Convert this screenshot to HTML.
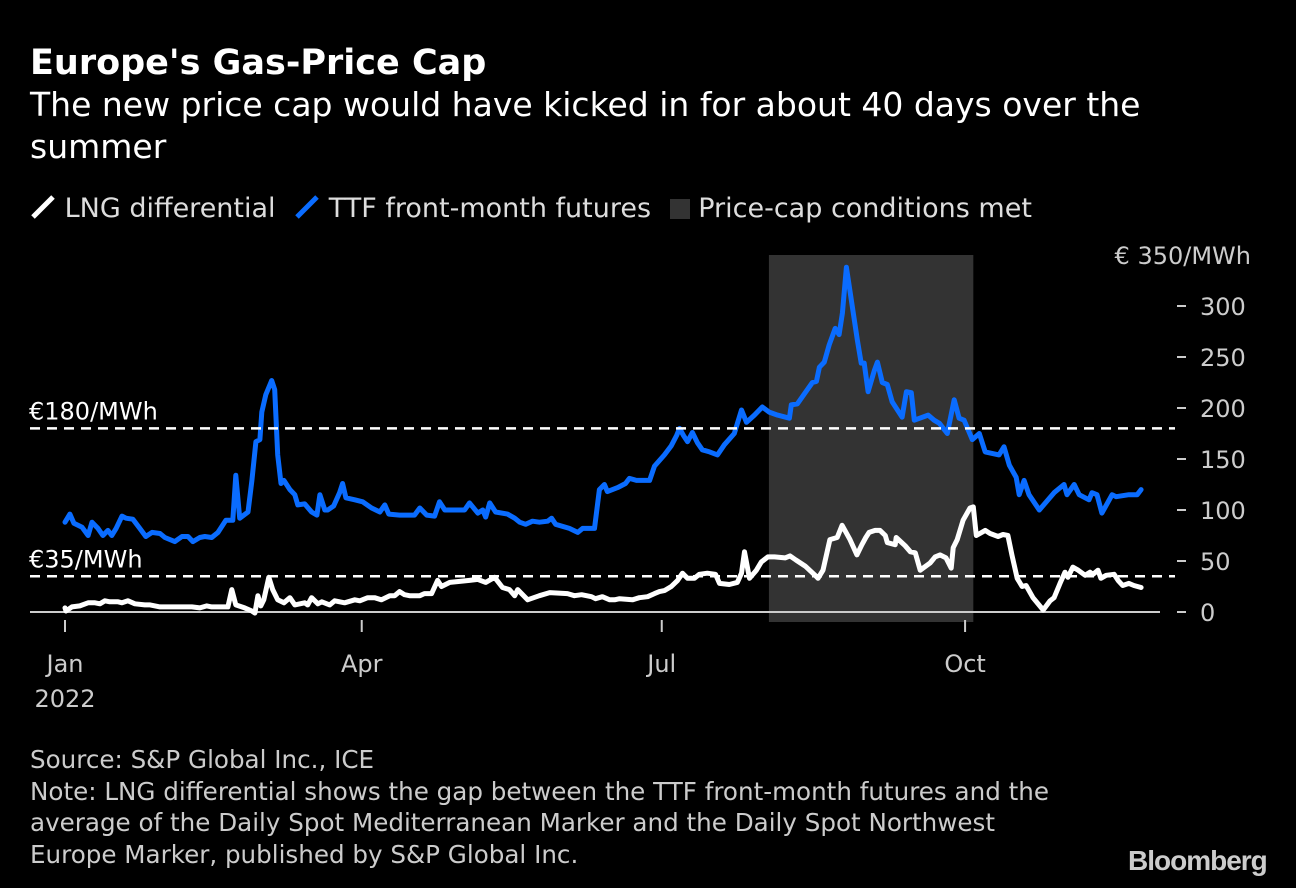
<!DOCTYPE html>
<html><head><meta charset="utf-8"><style>
body{margin:0;background:#000;width:1296px;height:888px;overflow:hidden;font-family:"DejaVu Sans","Liberation Sans",sans-serif;color:#fff}
.t{position:absolute;white-space:nowrap}
</style></head><body>
<div class="t" style="left:30px;top:43px;font-size:35px;font-weight:bold">Europe's Gas-Price Cap</div>
<div class="t" style="left:30px;top:84px;font-size:33px;line-height:42px;white-space:normal;width:1160px">The new price cap would have kicked in for about 40 days over the summer</div>
<div class="t" style="left:30px;top:193px;font-size:27px;color:#ddd">
<span><svg width="26" height="26" style="vertical-align:-3px"><line x1="3" y1="23" x2="23" y2="3" stroke="#fff" stroke-width="5"/></svg> LNG differential</span>
<span style="margin-left:10px"><svg width="26" height="26" style="vertical-align:-3px"><line x1="3" y1="23" x2="23" y2="3" stroke="#0a6cff" stroke-width="5"/></svg> TTF front-month futures</span>
<span style="margin-left:10px"><span style="display:inline-block;width:20px;height:20px;background:#333;vertical-align:-2px"></span> Price-cap conditions met</span>
</div>
<svg id="chart" width="1296" height="888" style="position:absolute;left:0;top:0"></svg>
<div class="t" style="left:30px;top:744px;font-size:24.6px;line-height:31.5px;color:#ccc">Source: S&amp;P Global Inc., ICE<br>Note: LNG differential shows the gap between the TTF front-month futures and the<br>average of the Daily Spot Mediterranean Marker and the Daily Spot Northwest<br>Europe Marker, published by S&amp;P Global Inc.</div>
<div class="t" style="left:1128px;top:845px;font-size:28px;font-weight:bold;color:#ccc;letter-spacing:-1px;font-family:'Liberation Sans',sans-serif">Bloomberg</div>
<script>
const ttfDays=[0,1.5,2.7,5.2,7,8.2,10,11.5,13,14.2,15.5,17.3,18.5,20.6,22.7,24.5,26.4,28.8,30.3,33.3,35.5,37.3,38.8,40.9,42.4,44.5,46.4,48.8,50.9,51.8,53,55.5,56.7,57.9,59.1,59.7,60.9,62.7,63.6,64.5,65.5,66.4,68.2,69.7,70.6,72.7,74.8,76.4,77.3,78.8,79.7,81.5,83.3,84.2,85.2,87.9,90.3,93,95.5,97,98.2,101.5,106,107.6,109.7,112.1,113.6,115.2,121.2,122.7,125.2,126.7,127.6,128.8,130.6,134.2,136.4,137.9,139.7,141.8,143.9,146.4,147.6,148.8,153,155.5,157,160.6,162.1,163.6,164.5,167.6,170,171.2,173.3,177.3,178.8,181.8,183.9,185.5,186.4,187.6,188.8,190.3,191.8,193.3,195.5,197.9,200,203,205.2,206.7,209.1,211.5,213.6,216.1,219.7,220.3,222.1,224.5,226.7,227.9,228.8,230.3,231.8,233.6,234.8,235.8,237,238.5,240.3,241.5,242.4,243.6,245.5,246.4,247.9,249.4,250.9,253.9,255.2,256.7,257.6,261.8,263.6,265.2,267.6,269.7,271.2,272.7,275.2,277.3,279.1,283.3,284.8,286.4,288.5,289.4,290.9,292.4,295.5,300,303,303.9,306.1,307.6,310.6,311.5,313,314.5,317.6,318.8,322.7,325.2,326.4];
const ttfValues=[88,96,87,83,75,88,82,75,80,75,82,94,92,91,82,74,78,77,73,69,74,74,69,73,74,73,78,90,90,134,92,98,129,167,169,196,213,227,218,154,126,129,120,115,105,106,98,95,115,100,100,104,117,126,112,110,108,102,98,105,96,95,95,102,95,94,108,100,100,107,97,100,93,107,98,96,92,88,86,89,88,89,92,86,82,78,82,82,120,125,118,122,126,131,129,129,143,154,163,173,180,173,167,176,166,159,157,154,164,175,198,186,193,201,196,193,190,203,204,215,225,226,240,245,262,278,272,293,338,306,267,244,244,216,237,245,225,223,206,191,216,215,188,193,188,185,175,208,190,188,169,175,157,154,162,144,132,115,129,115,100,117,125,115,125,115,110,117,115,97,115,113,115,115,120];
const lngDays=[0,0.3,2.1,4.5,7,9.1,10.6,12.1,13.6,16.1,17.3,19.1,21.2,24.2,25.8,28.8,31.8,34.8,38.5,40.9,43,44.5,49.4,50.6,51.8,54.5,56.7,57.6,58.5,59.4,60.3,61.8,63,64.5,66.4,68.2,69.7,72.7,73.6,74.8,76.7,77.9,80.3,81.8,84.8,87.9,89.4,91.8,93.9,96,98.5,100,101.5,103,104.5,107.6,109,111.2,113,114.2,116.7,119.7,122.7,125.2,127.6,130.3,132.7,134.8,136.4,137.3,140.3,143.9,147,152.4,154.5,156.7,159.7,160.9,163,165.2,166.7,168.2,172.1,174.2,176.7,178.8,180.3,181.8,183.9,185.8,187.3,188.8,190.9,192.4,194.8,197.3,198.5,201.5,203.9,205.2,206.1,207.6,209.7,211.2,213.2,215.2,218.4,219.9,221.7,224.5,227.5,228.4,229.9,232,234.2,235.7,238.1,240.2,241.7,242.9,243.9,245.7,247.2,248.8,249.4,251.8,252.1,254.8,256.4,257.9,259.4,262.4,263.9,265.4,267.2,268.8,269.4,270.6,272.4,274.5,275.5,276.4,279.1,280.6,283,284.5,286,287.2,288.8,290.3,291.5,293.6,296.7,298.8,300,301.8,303.3,304.2,305.7,307.3,309.4,310.9,311.8,313.3,314.2,315.8,318.2,319.4,320.8,322.7,324.2,326.4];
const lngValues=[4,1,5,6,9,9,8,11,10,10,9,11,8,7,7,5,5,5,5,4,6,5,5,22,7,4,1,-1,16,6,12,34,22,12,9,14,7,9,7,14,8,10,7,11,9,12,11,14,14,12,16,16,20,17,16,16,18,18,31,25,29,30,31,32,29,34,24,22,16,22,12,16,19,18,16,17,15,13,15,12,12,13,12,14,15,18,20,21,25,31,38,33,33,37,38,37,28,27,29,38,59,33,41,49,54,54,53,55,51,45,36,33,41,71,73,85,71,56,66,73,78,80,80,75,68,66,73,65,59,58,41,48,54,56,53,43,63,71,90,102,103,75,80,77,74,76,75,56,33,25,26,14,2,11,14,28,39,34,44,41,36,39,37,41,33,36,37,31,26,28,26,24];
const yTicks=[0,50,100,150,200,250,300];
const monthDays=[0,90,181,273];
const monthLabels=["Jan","Apr","Jul","Oct"];
const capRange=[213.5,275.5];
const refLevels=[180,35];
const refLabels=["€180/MWh","€35/MWh"];

const NS="http://www.w3.org/2000/svg";
const svg=document.getElementById('chart');
const FF='DejaVu Sans, Liberation Sans, sans-serif';
const X=d=>65+d*3.297;
const Y=v=>612-v*1.02;
function mk(tag,at){const e=document.createElementNS(NS,tag);for(const k in at)e.setAttribute(k,at[k]);svg.appendChild(e);return e;}
const sh=mk('rect',{x:X(capRange[0]),y:255,width:X(capRange[1])-X(capRange[0]),height:367,fill:'#333'});


const zl=mk('line',{x1:30,x2:1160,y1:Y(0),y2:Y(0),stroke:'#ccc','stroke-width':2});


yTicks.forEach(v=>{
  const tk=mk('line',{x1:1177,x2:1186,y1:Y(v),y2:Y(v),stroke:'#ccc','stroke-width':2});
  
  
  const t=mk('text',{x:1200,y:Y(v)+9,fill:'#ccc','font-size':24,'font-family':FF});
  t.textContent=v;
  
  
});
const yt=mk('text',{x:1251,y:Y(350)+9,fill:'#ccc','font-size':24,'text-anchor':'end','font-family':FF});
yt.textContent='€ 350/MWh';


monthDays.forEach((d,i)=>{
  const tk=mk('line',{x1:X(d),x2:X(d),y1:620,y2:632,stroke:'#ccc','stroke-width':2});
  
  
  const t=mk('text',{x:X(d),y:672,fill:'#ccc','font-size':24,'text-anchor':'middle','font-family':FF});
  t.textContent=monthLabels[i];
  
  
});
const yr=mk('text',{x:X(0),y:707,fill:'#ccc','font-size':24,'text-anchor':'middle','font-family':FF});
yr.textContent='2022';


function path(days,vals,color,name){
  const p=mk('path',{d:days.map((d,i)=>(i?'L':'M')+X(d).toFixed(1)+' '+Y(vals[i]).toFixed(1)).join(''),fill:'none',stroke:color,'stroke-width':5,'stroke-linejoin':'round','stroke-linecap':'round'});
  
  
}
path(ttfDays,ttfValues,'#0a6cff','ttf-line');
path(lngDays,lngValues,'#fff','lng-line');
refLevels.forEach((v,i)=>{
  const l=mk('line',{x1:30,x2:1175,y1:Y(v),y2:Y(v),stroke:'#fff','stroke-width':2.5,'stroke-dasharray':'10 7'});
  
  
  const t=mk('text',{x:29,y:Y(v)-9,fill:'#fff','font-size':24,'font-family':FF});
  t.textContent=refLabels[i];
  
  
});
</script>
</body></html>
